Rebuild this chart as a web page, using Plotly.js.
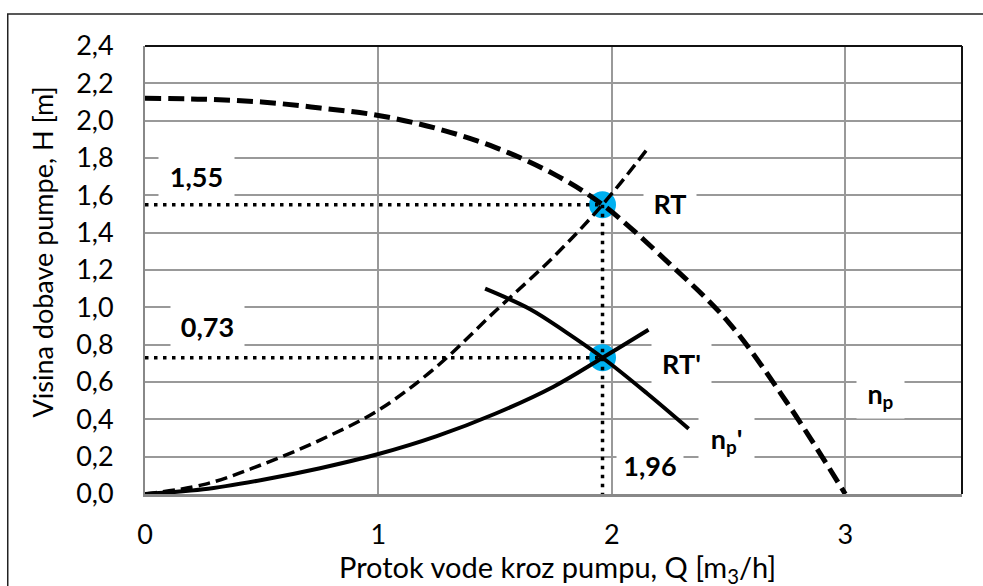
<!DOCTYPE html>
<html>
<head>
<meta charset="utf-8">
<script src="https://cdn.plot.ly/plotly-3.0.1.min.js"></script>
<style>
html,body{margin:0;padding:0;background:#fff;}
#chart{width:983px;height:586px;}
</style>
</head>
<body>
<div id="chart"></div>
<script>
// ---- data ----
// pump curve at nominal speed n_p (thick dashed)
var pumpQ = [0, 0.25, 0.5, 0.75, 1.0, 1.25, 1.5, 1.75, 1.96, 2.25, 2.5, 2.75, 3.0];
var pumpH = [2.12, 2.115, 2.10, 2.068, 2.028, 1.958, 1.857, 1.715, 1.55, 1.23, 0.92, 0.49, 0.0];
// system curve through RT (thin dashed)
var sysQ = [0, 0.25, 0.5, 0.75, 1.0, 1.25, 1.5, 1.75, 1.96, 2.15];
var sysH = [0, 0.05, 0.157, 0.289, 0.449, 0.683, 0.979, 1.27, 1.55, 1.845];
// system curve through RT' (solid)
var sys2Q = [0, 0.25, 0.5, 0.75, 1.0, 1.25, 1.5, 1.75, 1.96, 2.157];
var sys2H = [0, 0.025, 0.075, 0.138, 0.214, 0.31, 0.43, 0.575, 0.73, 0.88];
// pump curve at reduced speed n_p' (solid)
var npQ = [1.457, 1.65, 1.8, 1.96, 2.15, 2.329];
var npH = [1.10, 0.99, 0.87, 0.73, 0.54, 0.35];
// operating points RT and RT'
var rtQ = [1.96, 1.96];
var rtH = [1.55, 0.73];
// tick labels
var xTicks = [0, 1, 2, 3];
var yTicks = [0, 0.2, 0.4, 0.6, 0.8, 1.0, 1.2, 1.4, 1.6, 1.8, 2.0, 2.2, 2.4];
var yTickText = ['0,0','0,2','0,4','0,6','0,8','1,0','1,2','1,4','1,6','1,8','2,0','2,2','2,4'];

var FONT = 'Lato, "Open Sans", sans-serif';
var FS = 27;

var traces = [
  {x: rtQ, y: rtH, mode: 'markers', type: 'scatter',
   marker: {size: 27, color: '#00B0F0'}, hoverinfo: 'skip'},
  {x: [0, rtQ[0]], y: [rtH[0], rtH[0]], mode: 'lines', type: 'scatter',
   line: {color: '#000', width: 3.5, dash: '3.5px,5.5px'}},
  {x: [0, rtQ[1]], y: [rtH[1], rtH[1]], mode: 'lines', type: 'scatter',
   line: {color: '#000', width: 3.5, dash: '3.5px,5.5px'}},
  {x: [rtQ[0], rtQ[0]], y: [rtH[0], 0], mode: 'lines', type: 'scatter',
   line: {color: '#000', width: 3.5, dash: '3.5px,5.5px'}},
  {x: sysQ, y: sysH, mode: 'lines', type: 'scatter',
   line: {color: '#000', width: 3.5, dash: '12px,6px', shape: 'spline', smoothing: 1}},
  {x: sys2Q, y: sys2H, mode: 'lines', type: 'scatter',
   line: {color: '#000', width: 4, shape: 'spline', smoothing: 1}},
  {x: npQ, y: npH, mode: 'lines', type: 'scatter',
   line: {color: '#000', width: 4, shape: 'spline', smoothing: 1}},
  {x: pumpQ, y: pumpH, mode: 'lines', type: 'scatter',
   line: {color: '#000', width: 5, dash: '16px,7px', shape: 'spline', smoothing: 1}}
];

function lab(text, x, y, w, h) {
  return {text: '<b>' + text + '</b>', x: x, y: y, xref: 'x', yref: 'y',
          showarrow: false, bgcolor: '#fff', width: w, height: h,
          font: {family: FONT, size: FS, color: '#000'},
          xanchor: 'center', yanchor: 'middle'};
}

var layout = {
  width: 983, height: 586,
  margin: {l: 145, r: 21, t: 46, b: 92, pad: 0},
  paper_bgcolor: '#fff', plot_bgcolor: '#fff',
  showlegend: false,
  font: {family: FONT, size: FS, color: '#000'},
  xaxis: {
    range: [0, 3.5], tickvals: xTicks, ticktext: xTicks.map(String),
    showgrid: true, gridcolor: '#999', gridwidth: 2,
    showline: true, linecolor: '#888', linewidth: 3,
    zeroline: false, ticks: '', ticklabelstandoff: 15,
    tickfont: {family: FONT, size: FS, color: '#000'}
  },
  yaxis: {
    range: [0, 2.4], tickvals: yTicks, ticktext: yTickText,
    showgrid: true, gridcolor: '#999', gridwidth: 2,
    showline: true, linecolor: '#888', linewidth: 2,
    zeroline: false, ticks: '', ticklabelstandoff: 24,
    tickfont: {family: FONT, size: FS, color: '#000'}
  },
  shapes: [
    {type: 'line', xref: 'paper', yref: 'paper', x0: 0, x1: 1, y0: 1, y1: 1,
     line: {color: '#111', width: 2}},
    {type: 'line', xref: 'paper', yref: 'paper', x0: 1, x1: 1, y0: 0, y1: 1,
     line: {color: '#111', width: 2}},
    {type: 'rect', xref: 'paper', yref: 'paper', x0: -0.168, x1: 1.3, y0: -0.4, y1: 1.0714,
     line: {color: '#222', width: 1.5}, fillcolor: 'rgba(0,0,0,0)', layer: 'below'}
  ],
  annotations: [
    lab('1,55', 0.221, 1.70, 73, 37),
    lab('0,73', 0.268, 0.90, 71, 38),
    lab('RT', 2.249, 1.56, 50, 44),
    lab("RT'", 2.299, 0.70, 57, 44),
    lab('n<sub>p</sub>', 3.151, 0.53, 45, 44),
    lab("n<sub>p</sub>'", 2.491, 0.29, 53, 48),
    lab('1,96', 2.165, 0.155, 64, 40),
    {text: 'Visina dobave pumpe, H [m]', xref: 'paper', yref: 'paper',
     x: -0.1255, y: 0.54, textangle: -90, showarrow: false,
     xanchor: 'center', yanchor: 'middle',
     font: {family: FONT, size: FS, color: '#000'}},
    {text: 'Protok vode kroz pumpu, Q [m<sub>3</sub>/h]', xref: 'paper', yref: 'paper',
     x: 0.5055, y: -0.166, showarrow: false, xanchor: 'center', yanchor: 'middle',
     font: {family: FONT, size: 29, color: '#000'}}
  ]
};

Plotly.newPlot('chart', traces, layout, {displayModeBar: false, staticPlot: true});
</script>
</body>
</html>
